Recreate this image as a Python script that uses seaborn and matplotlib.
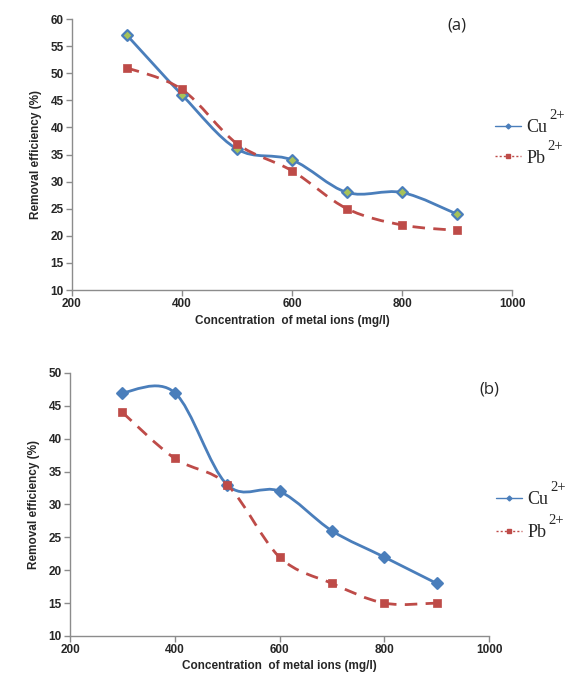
import numpy as np
import pandas as pd
import matplotlib
matplotlib.use("Agg")
import matplotlib.pyplot as plt
from matplotlib.path import Path
from matplotlib.patches import PathPatch
from matplotlib.lines import Line2D
from matplotlib.transforms import IdentityTransform
import seaborn as sns

# ---------------- data ----------------
concentration = [300, 400, 500, 600, 700, 800, 900]
cu_a = [57, 46, 36, 34, 28, 28, 24]
pb_a = [51, 47, 37, 32, 25, 22, 21]
cu_b = [47, 47, 33, 32, 26, 22, 18]
pb_b = [44, 37, 33, 22, 18, 15, 15]
panel_labels = ["(a)", "(b)"]
ion_labels = ["Cu", "Pb"]
ion_charge = "2+"
x_label = "Concentration  of metal ions (mg/l)"
y_label = "Removal efficiency (%)"

sns.set_theme(style="white")
plt.rcParams["font.family"] = ["Liberation Sans", "DejaVu Sans"]

BLUE = "#4A7EBB"
RED = "#BE4B48"
SPINE = "#8C8C8C"

fig = plt.figure(figsize=(5.66, 6.77), dpi=100)
ax_a = fig.add_axes([0.1272, 0.5716, 0.7774, 0.4003])
ax_b = fig.add_axes([0.1237, 0.0606, 0.7403, 0.3885])


def smooth_path(xs, ys):
    """Excel-like smoothed line: Catmull-Rom converted to cubic Bezier."""
    pts = np.column_stack([xs, ys]).astype(float)
    n = len(pts)
    verts = [pts[0]]
    codes = [Path.MOVETO]
    for i in range(n - 1):
        p0 = pts[i - 1] if i > 0 else pts[i]
        p1 = pts[i]
        p2 = pts[i + 1]
        p3 = pts[i + 2] if i + 2 < n else pts[i + 1]
        c1 = p1 + (p2 - p0) / 6.0
        c2 = p2 - (p3 - p1) / 6.0
        verts += [c1, c2, p2]
        codes += [Path.CURVE4] * 3
    return Path(verts, codes)


legends = []


def draw_panel(ax, cu, pb, ylim, yticks, label, label_xy, cu_face, legend_xy, spacing):
    df = pd.DataFrame({"conc": concentration * 2,
                       "eff": cu + pb,
                       "ion": ["Cu"] * len(cu) + ["Pb"] * len(pb)})
    ax.add_patch(PathPatch(smooth_path(concentration, cu), fill=False,
                           edgecolor=BLUE, lw=2.0, zorder=2))
    ax.add_patch(PathPatch(smooth_path(concentration, pb), fill=False,
                           edgecolor=RED, lw=2.0, linestyle=(0, (4.5, 3)), zorder=2))
    sns.scatterplot(data=df[df.ion == "Cu"], x="conc", y="eff", ax=ax,
                    marker="D", s=30, color=cu_face, edgecolor=BLUE,
                    linewidth=1.6, zorder=3, legend=False)
    sns.scatterplot(data=df[df.ion == "Pb"], x="conc", y="eff", ax=ax,
                    marker="s", s=36, color=RED, edgecolor=RED,
                    linewidth=0.5, zorder=3, legend=False)
    ax.set_xlim(200, 1000)
    ax.set_ylim(*ylim)
    ax.set_xticks([200, 400, 600, 800, 1000])
    ax.set_yticks(yticks)
    for s in ["top", "right"]:
        ax.spines[s].set_visible(False)
    for s in ["left", "bottom"]:
        ax.spines[s].set_color(SPINE)
        ax.spines[s].set_linewidth(1.0)
    ax.tick_params(axis="both", which="major", direction="out", length=4,
                   width=1.0, color=SPINE, labelsize=8.5, pad=2,
                   bottom=True, left=True)
    for t in ax.get_xticklabels() + ax.get_yticklabels():
        t.set_fontweight("bold")
    ax.set_xlabel(x_label, fontsize=8.5, fontweight="bold", labelpad=3)
    ax.set_ylabel(y_label, fontsize=8.5, fontweight="bold", labelpad=6)
    ax.grid(False)
    fig.text(label_xy[0], label_xy[1], label, fontsize=12,
             family=["Open Sans", "DejaVu Sans"], ha="center", va="center")
    handles = [
        Line2D([], [], color=BLUE, lw=1.0, marker="D", markersize=2.5),
        Line2D([], [], color=RED, lw=1.0, linestyle=(0, (1.5, 1.5)),
               marker="s", markersize=2.5),
    ]
    leg = ax.legend(handles, ion_labels, loc="center left",
                    bbox_to_anchor=legend_xy, bbox_transform=fig.transFigure,
                    frameon=False, prop={"family": "Liberation Serif", "size": 13},
                    handlelength=1.45, handletextpad=0.3, labelspacing=spacing,
                    borderpad=0, borderaxespad=0)
    legends.append(leg)


draw_panel(ax_a, cu_a, pb_a, (10, 60), range(10, 61, 5), panel_labels[0],
           (457 / 566, 1 - 25 / 677), "#A6C25A", (495 / 566, 1 - 143 / 677), 0.75)
draw_panel(ax_b, cu_b, pb_b, (10, 50), range(10, 51, 5), panel_labels[1],
           (489 / 566, 1 - 390 / 677), BLUE, (496 / 566, 1 - 516 / 677), 0.9)

# superscript charges placed just above/after each legend label
fig.canvas.draw()
renderer = fig.canvas.get_renderer()
for leg in legends:
    for t in leg.get_texts():
        bb = t.get_window_extent(renderer)
        fig.text(bb.x1 + 2, bb.y1 - 3, ion_charge, transform=IdentityTransform(),
                 family="Liberation Serif", fontsize=10.5, ha="left", va="bottom")

fig.savefig("out.png", dpi=100)
